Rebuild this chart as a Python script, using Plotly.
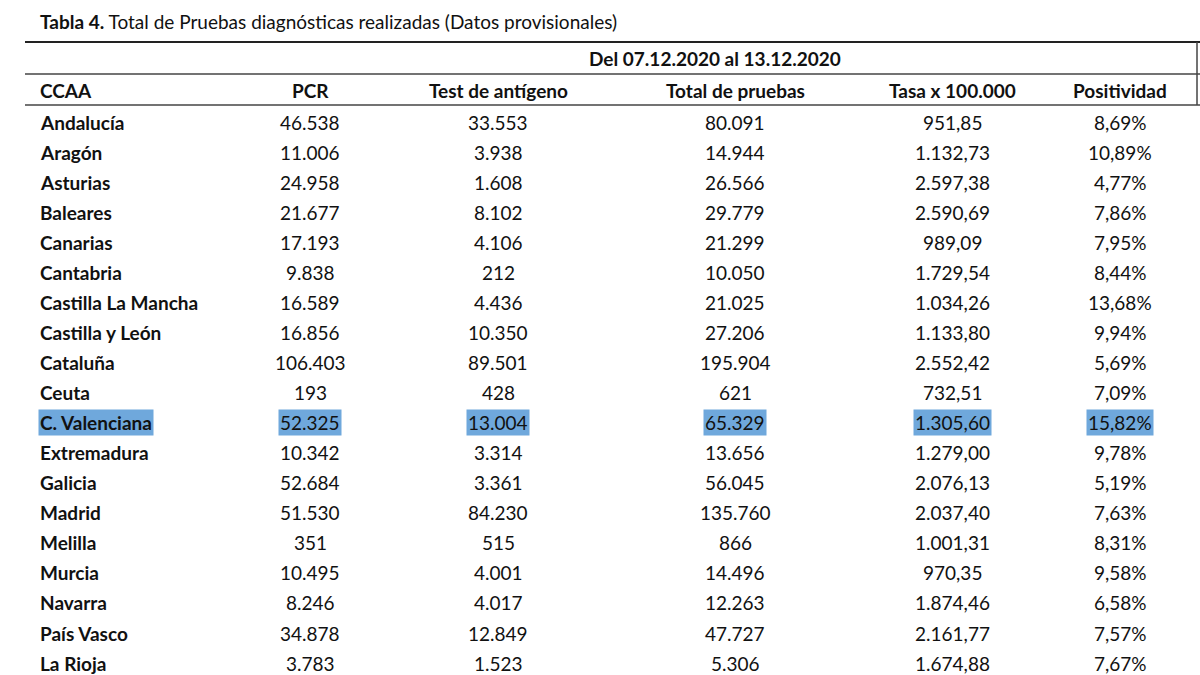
import plotly.graph_objects as go

title_bold = "Tabla 4."
title_rest = " Total de Pruebas diagnósticas realizadas (Datos provisionales)"
period = "Del 07.12.2020 al 13.12.2020"
headers = ["CCAA", "PCR", "Test de antígeno", "Total de pruebas", "Tasa x 100.000", "Positividad"]
ccaa = ["Andalucía", "Aragón", "Asturias", "Baleares", "Canarias", "Cantabria", "Castilla La Mancha",
        "Castilla y León", "Cataluña", "Ceuta", "C. Valenciana", "Extremadura", "Galicia", "Madrid",
        "Melilla", "Murcia", "Navarra", "País Vasco", "La Rioja"]
pcr = ["46.538", "11.006", "24.958", "21.677", "17.193", "9.838", "16.589", "16.856", "106.403", "193",
       "52.325", "10.342", "52.684", "51.530", "351", "10.495", "8.246", "34.878", "3.783"]
antigeno = ["33.553", "3.938", "1.608", "8.102", "4.106", "212", "4.436", "10.350", "89.501", "428",
            "13.004", "3.314", "3.361", "84.230", "515", "4.001", "4.017", "12.849", "1.523"]
total = ["80.091", "14.944", "26.566", "29.779", "21.299", "10.050", "21.025", "27.206", "195.904", "621",
         "65.329", "13.656", "56.045", "135.760", "866", "14.496", "12.263", "47.727", "5.306"]
tasa = ["951,85", "1.132,73", "2.597,38", "2.590,69", "989,09", "1.729,54", "1.034,26", "1.133,80",
        "2.552,42", "732,51", "1.305,60", "1.279,00", "2.076,13", "2.037,40", "1.001,31", "970,35",
        "1.874,46", "2.161,77", "1.674,88"]
positividad = ["8,69%", "10,89%", "4,77%", "7,86%", "7,95%", "8,44%", "13,68%", "9,94%", "5,69%", "7,09%",
               "15,82%", "9,78%", "5,19%", "7,63%", "8,31%", "9,58%", "6,58%", "7,57%", "7,67%"]
highlight = "C. Valenciana"

FONT = "Lato"
col_x = [38, 310, 498, 735, 952, 1120]
row0, dy = 122, 30.06
hl_color = "#6fa8dc"

fig = go.Figure()
fig.add_trace(go.Scatter(x=[0, 1200], y=[0, 675], mode="markers", marker=dict(opacity=0), hoverinfo="skip"))
ann = []
ann.append(dict(x=38, y=21, xanchor="left", yanchor="middle",
                text=f"<b>{title_bold}</b>{title_rest}", font=dict(size=19, family=FONT, color="#111")))
ann.append(dict(x=715, y=58, xanchor="center", yanchor="middle", text=f"<b>{period}</b>",
                font=dict(size=19, family=FONT, color="#111")))
for i, h in enumerate(headers):
    ann.append(dict(x=col_x[i], y=90, xanchor="left" if i == 0 else "center", yanchor="middle",
                    text=f"<b>{h}</b>", font=dict(size=19, family=FONT, color="#111")))
cols = [ccaa, pcr, antigeno, total, tasa, positividad]
for r in range(len(ccaa)):
    y = row0 + r * dy
    hl = ccaa[r] == highlight
    for c in range(6):
        t = cols[c][r]
        ann.append(dict(x=col_x[c], y=y, xanchor="left" if c == 0 else "center", yanchor="middle",
                        text=f"<b>{t}</b>" if c == 0 else t,
                        bgcolor=hl_color if hl else None, borderpad=1,
                        font=dict(size=19, family=FONT, color="#111")))
for a in ann:
    a.update(xref="x", yref="y", showarrow=False)
shapes = [
    dict(type="line", x0=25, x1=1200, y0=42, y1=42, line=dict(color="#222", width=2)),
    dict(type="line", x0=25, x1=1200, y0=74, y1=74, line=dict(color="#444", width=1.5)),
    dict(type="line", x0=25, x1=1200, y0=105, y1=105, line=dict(color="#444", width=1.5)),
    dict(type="line", x0=1197, x1=1197, y0=42, y1=105, line=dict(color="#444", width=1.5)),
]
for s in shapes:
    s.update(xref="x", yref="y")
fig.update_layout(width=1200, height=675, margin=dict(l=0, r=0, t=0, b=0),
                  plot_bgcolor="white", paper_bgcolor="white", showlegend=False,
                  annotations=ann, shapes=shapes,
                  xaxis=dict(range=[0, 1200], visible=False, fixedrange=True),
                  yaxis=dict(range=[675, 0], visible=False, fixedrange=True))
html = fig.to_html(config={"displayModeBar": False})
html = html.replace("<body>", '<body style="margin:0;overflow:hidden">', 1)
with open("out.html", "w", encoding="utf-8") as f:
    f.write(html)
fig.write_html  # figure written above with inline plotly.js
